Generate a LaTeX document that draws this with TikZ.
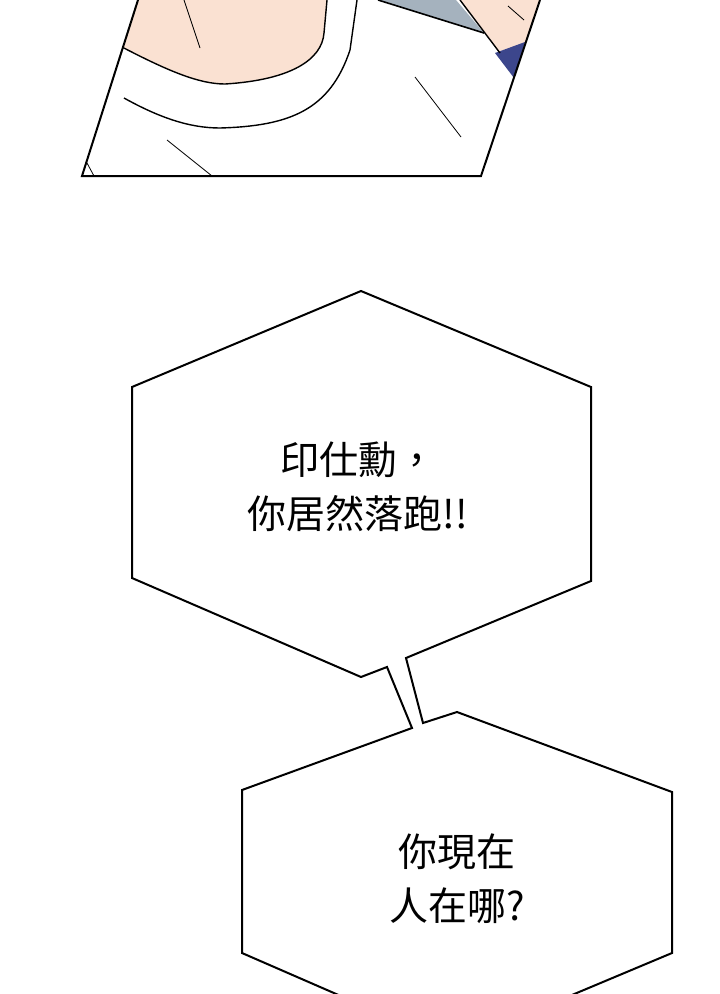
\documentclass[tikz,border=0pt]{standalone}
\usepackage{fontspec}
\newfontfamily\cjk{Noto Sans CJK TC}
\begin{document}
\begin{tikzpicture}[x=1pt,y=-1pt,line join=miter,
  bub/.style={draw=black,line width=2pt,fill=white},
  txt/.style={font=\cjk\fontsize{39}{54}\selectfont,align=center,inner sep=0}]
\useasboundingbox (0,0) rectangle (720,994);
\fill[white] (0,0) rectangle (720,994);
% top panel
\begin{scope}
\clip (138,0) -- (82,176) -- (481,176) -- (540,0) -- cycle;
\fill[white] (0,0) rectangle (720,200);
\fill[fill={rgb,255:red,250;green,225;blue,210}] (130,0) -- (122,47) .. controls (170,72) and (200,84) .. (225,84) .. controls (290,80) and (322,60) .. (324,33) -- (327,0) -- cycle;
\fill[fill={rgb,255:red,165;green,178;blue,190}] (378,0) -- (456,0) -- (484,33) -- cycle;
\fill[fill={rgb,255:red,250;green,225;blue,210}] (460,0) -- (500,53) -- (525,43) -- (545,0) -- cycle;
\fill[fill={rgb,255:red,60;green,70;blue,140}] (495,53) -- (525,42) -- (514,78) -- cycle;
\draw[line width=1.4pt] (122,47) .. controls (170,72) and (200,84) .. (225,84) .. controls (290,80) and (322,60) .. (324,33) -- (327,0);
\draw[line width=1.4pt] (124,98) .. controls (160,118) and (190,128) .. (220,128) .. controls (290,126) and (330,110) .. (350,50) -- (357,0);
\draw[line width=1.6pt] (378,0) -- (484,33);
\draw[line width=1.4pt] (460,0) -- (500,53);
\draw[line width=0.8pt] (184,0) -- (200,48);
\draw[line width=0.8pt] (415,77) -- (461,137);
\draw[line width=0.8pt] (167,140) -- (212,176);
\draw[line width=0.8pt] (508,6) -- (524,20);
\draw[line width=0.8pt] (87,163) -- (94,176);
\end{scope}
\draw[line width=2pt] (138,0) -- (82,176) -- (481,176) -- (540,0);
% bubbles
\path[bub] (361,291) -- (591,387) -- (591,581) -- (406,658) -- (423,723) -- (457,712) -- (672,792) -- (672,953) -- (560,1000) -- (350,1000) -- (242,953) -- (242,790) -- (412,728) -- (387,667) -- (361,677) -- (132,578) -- (132,387) -- cycle;
\node[txt] (t1) at (358,487) {印仕勳，\\你居然落跑!!};
\node[txt] (t2) at (457,879) {你現在\\人在哪?};
\end{tikzpicture}
\end{document}
